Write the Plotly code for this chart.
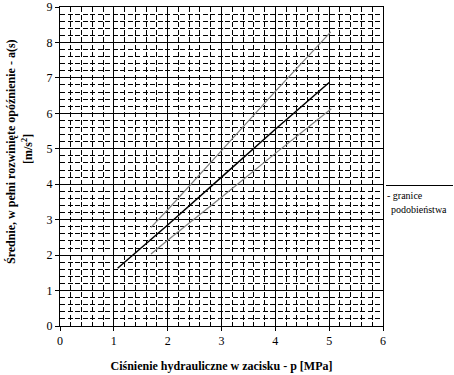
import plotly.graph_objects as go

# data
mid_x = [1.07, 2, 3, 4, 5]
mid_y = [1.63, 2.85, 4.20, 5.55, 6.87]
up_x = [1.69, 2, 3, 4, 5.03]
up_y = [2.78, 3.28, 4.95, 6.62, 8.30]
lo_x = [1.69, 2, 3, 4, 5.04]
lo_y = [2.03, 2.42, 3.63, 4.87, 6.13]

x_title = "Ciśnienie hydrauliczne w zacisku - p [MPa]"
y_title1 = "Średnie, w pełni rozwinięte opóźnienie - a(s)"
y_title2 = "[m/s<sup>2</sup>]"
legend_text1 = "- granice"
legend_text2 = "podobieństwa"

FONT = "Liberation Serif, Times New Roman, serif"

fig = go.Figure()
fig.add_trace(go.Scatter(x=up_x, y=up_y, mode="lines", line=dict(color="#7f7f7f", width=1.2), showlegend=False))
fig.add_trace(go.Scatter(x=lo_x, y=lo_y, mode="lines", line=dict(color="#7f7f7f", width=1.2), showlegend=False))
fig.add_trace(go.Scatter(x=mid_x, y=mid_y, mode="lines", line=dict(color="black", width=1.5), showlegend=False))

L, R, T, B = 60, 71, 7, 49
W, H = 454, 375
pw = W - L - R
ph = H - T - B

axis_common = dict(
    showgrid=True, gridcolor="black", gridwidth=1,
    showline=True, linecolor="black", linewidth=1, mirror=True,
    ticks="outside", ticklen=4, tickcolor="black", tickwidth=1,
    zeroline=False, automargin=False,
    tickfont=dict(family=FONT, size=12, color="black"),
    minor=dict(showgrid=True, gridcolor="black", gridwidth=1, griddash="5px,2.5px", ticks=""),
)

fig.update_xaxes(range=[0, 6], dtick=1, tick0=0, minor_dtick=0.2,
                 title=dict(text=x_title, font=dict(family=FONT, size=12, color="black", weight="bold"), standoff=14),
                 **axis_common)
fig.update_yaxes(range=[0, 9], dtick=1, tick0=0, minor_dtick=0.2, **axis_common)

def px_to_paper_x(px):
    return (px - L) / pw

def py_to_paper_y(py):
    return (H - B - py) / ph

fig.add_annotation(text=y_title1, xref="paper", yref="paper",
                   x=px_to_paper_x(11), y=py_to_paper_y(152), showarrow=False, textangle=-90,
                   xanchor="center", yanchor="middle",
                   font=dict(family=FONT, size=12, color="black", weight="bold"))
fig.add_annotation(text=y_title2, xref="paper", yref="paper",
                   x=px_to_paper_x(27), y=py_to_paper_y(149), showarrow=False, textangle=-90,
                   xanchor="center", yanchor="middle",
                   font=dict(family=FONT, size=12, color="black", weight="bold"))

fig.add_shape(type="line", xref="paper", yref="paper",
              x0=px_to_paper_x(386), x1=px_to_paper_x(453),
              y0=py_to_paper_y(185.5), y1=py_to_paper_y(185.5),
              line=dict(color="black", width=1))
fig.add_annotation(text=legend_text1, xref="paper", yref="paper",
                   x=px_to_paper_x(385), y=py_to_paper_y(195), showarrow=False,
                   xanchor="left", yanchor="middle",
                   font=dict(family=FONT, size=10, color="black"))
fig.add_annotation(text=legend_text2, xref="paper", yref="paper",
                   x=px_to_paper_x(389), y=py_to_paper_y(209), showarrow=False,
                   xanchor="left", yanchor="middle",
                   font=dict(family=FONT, size=10, color="black"))

fig.update_layout(
    width=W, height=H,
    margin=dict(l=L, r=R, t=T, b=B),
    paper_bgcolor="white", plot_bgcolor="white",
    font=dict(family=FONT, size=12, color="black"),
    showlegend=False,
)

fig.write_html("out.html", config={"displayModeBar": False},
               post_script="document.body.style.margin='0';document.body.style.overflow='hidden';")
